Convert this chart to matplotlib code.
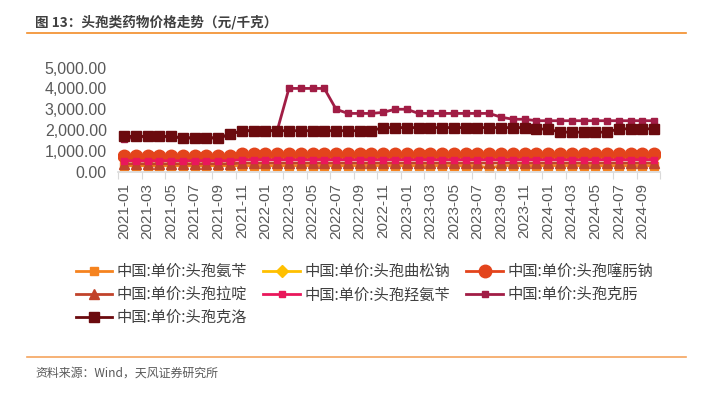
import numpy as np
import pandas as pd
import matplotlib
matplotlib.use("Agg")
import matplotlib.pyplot as plt
from matplotlib.lines import Line2D

plt.rcParams['font.family'] = ['Noto Sans CJK SC', 'DejaVu Sans']

# ---------------- data (元/千克), monthly 2021-01 .. 2024-10 ----------------
months = pd.period_range("2021-01", "2024-10", freq="M").strftime("%Y-%m").tolist()

anbian = [290, 290, 290, 290, 290, 290, 290, 290, 290, 290,
          290, 290, 290, 290, 290, 290, 290, 290, 290, 290,
          290, 290, 290, 290, 290, 290, 290, 290, 290, 290,
          290, 180, 290, 290, 290, 290, 290, 290, 290, 290,
          290, 290, 290, 290, 290, 290]
qusongna = [650, 650, 650, 650, 650, 650, 650, 650, 650, 650,
            720, 720, 720, 720, 720, 720, 720, 720, 720, 720,
            720, 720, 720, 720, 720, 720, 720, 720, 720, 720,
            720, 720, 720, 720, 720, 720, 720, 720, 720, 720,
            720, 720, 720, 720, 720, 720]
saiwona = [760, 760, 760, 760, 760, 760, 760, 760, 760, 760,
           870, 870, 870, 870, 870, 870, 870, 870, 870, 870,
           870, 870, 870, 870, 870, 870, 870, 870, 870, 870,
           870, 870, 870, 870, 870, 870, 870, 870, 870, 870,
           870, 870, 870, 870, 870, 870]
ladin = [380, 380, 380, 380, 380, 380, 380, 380, 380, 380,
         420, 420, 420, 420, 420, 420, 420, 420, 420, 420,
         420, 420, 420, 420, 420, 420, 420, 420, 420, 420,
         420, 420, 420, 420, 420, 420, 420, 420, 420, 420,
         420, 420, 420, 420, 420, 420]
qiananbian = [530, 530, 530, 530, 530, 530, 530, 530, 530, 530,
              580, 580, 580, 580, 580, 580, 580, 580, 580, 580,
              580, 580, 580, 580, 580, 580, 580, 580, 580, 580,
              580, 580, 580, 580, 580, 580, 580, 580, 580, 580,
              580, 580, 580, 580, 580, 580]
kewo = [1550, 1680, 1680, 1680, 1680, 1620, 1620, 1620, 1620, 1780,
        1970, 1970, 1970, 1970, 4000, 4000, 4000, 4000, 3000, 2800,
        2800, 2800, 2850, 3000, 3000, 2800, 2800, 2800, 2800, 2800,
        2800, 2800, 2620, 2520, 2520, 2450, 2450, 2450, 2450, 2450,
        2450, 2450, 2450, 2450, 2450, 2450]
keluo = [1700, 1700, 1700, 1700, 1700, 1630, 1630, 1630, 1630, 1800,
         1970, 1970, 1970, 1970, 1970, 1970, 1970, 1970, 1970, 1970,
         1970, 1970, 2120, 2120, 2120, 2120, 2120, 2120, 2120, 2120,
         2120, 2120, 2120, 2120, 2120, 2050, 2050, 1900, 1900, 1900,
         1900, 1900, 2060, 2060, 2060, 2060]

series = [
    ("中国:单价:头孢氨苄", anbian, "#F5831F", "s", 6),
    ("中国:单价:头孢曲松钠", qusongna, "#FFC000", "D", 6),
    ("中国:单价:头孢噻肟钠", saiwona, "#E3441C", "o", 9),
    ("中国:单价:头孢拉啶", ladin, "#C1432B", "^", 7),
    ("中国:单价:头孢羟氨苄", qiananbian, "#E9175B", "s", 4),
    ("中国:单价:头孢克肟", kewo, "#A11D45", "s", 4),
    ("中国:单价:头孢克洛", keluo, "#6B0A0E", "s", 7),
]

fig = plt.figure(figsize=(7.03, 3.93), dpi=100)
ax = fig.add_axes([0.168, 0.563, 0.771, 0.265])

x = np.arange(len(months))
lines = []
for i, (name, vals, col, mk, ms) in enumerate(series):
    ln, = ax.plot(x, vals, color=col, lw=2, marker=mk, ms=ms, mec=col, mfc=col,
                  label=name, zorder=2 + i)
    lines.append(ln)

ax.set_xlim(-0.5, len(months) - 0.5)
ax.set_ylim(0, 5000)
ax.set_yticks(np.arange(0, 5001, 1000))
ax.set_yticklabels([f"{v:,.2f}" for v in range(0, 5001, 1000)],
                   family="Liberation Sans", fontsize=11.5, color="#595959")
ax.tick_params(axis="y", length=0, pad=8)

ax.set_xticks(np.arange(-0.5, len(months), 2), minor=False)
ax.set_xticklabels([])
ax.set_xticks(x[::2], minor=True)
ax.set_xticklabels(months[::2], minor=True, rotation=90,
                   family="Liberation Sans", fontsize=11, color="#595959")
ax.tick_params(axis="x", which="major", length=5, color="#D9D9D9")
ax.tick_params(axis="x", which="minor", length=0, pad=8)

for s in ["top", "right", "left"]:
    ax.spines[s].set_visible(False)
ax.spines["bottom"].set_color("#D9D9D9")
ax.spines["bottom"].set_linewidth(1.2)

# legend filled row by row like the original
order = [0, 3, 6, 1, 4, 2, 5]
fig.legend([lines[k] for k in order], [series[k][0] for k in order],
           loc="upper left", bbox_to_anchor=(0.088, 0.366), ncol=3,
           frameon=False, fontsize=11, handlelength=2.4, handletextpad=0.3,
           columnspacing=1.05, labelspacing=0.4, labelcolor="#404040")

# title, rules, source
fig.text(0.05, 0.943, "图 13：头孢类药物价格走势（元/千克）", fontsize=9.8,
         fontweight="bold", color="#404040", va="center")
fig.add_artist(Line2D([0.038, 0.976], [0.915, 0.915], color="#F28C28", lw=1.2))
fig.add_artist(Line2D([0.038, 0.976], [0.092, 0.092], color="#F5A45D", lw=1.2))
fig.text(0.051, 0.051, "资料来源：Wind，天风证券研究所", fontsize=8.6,
         color="#595959", va="center")

fig.savefig("out.png", dpi=100)
